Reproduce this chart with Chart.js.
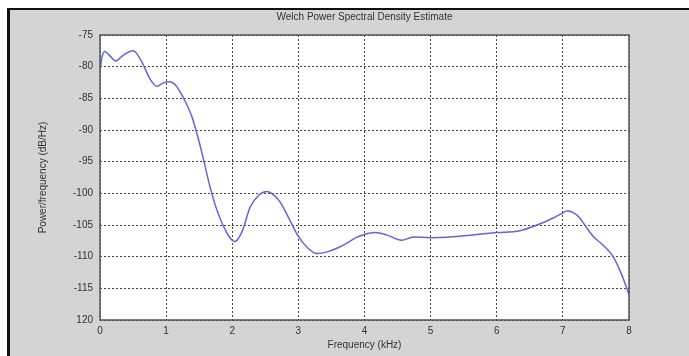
<!DOCTYPE html>
<html>
<head>
<meta charset="utf-8">
<script src="https://cdn.jsdelivr.net/npm/chart.js@4.4.1/dist/chart.umd.min.js"></script>
<style>
  html, body { margin: 0; padding: 0; background: #fff; }
  #panel {
    position: absolute; left: 7px; top: 8px; width: 682px; height: 348px;
    background: #d4d4d4; border-top: 2px solid #111; border-left: 3px solid #111;
  }
  #psd { position: absolute; left: 0; top: 0; }
</style>
</head>
<body>
<div id="panel"></div>
<canvas id="psd" width="689" height="356"></canvas>
<script>
const chartTitle = 'Welch Power Spectral Density Estimate';
const xTitle = 'Frequency (kHz)';
const yTitle = 'Power/frequency (dB/Hz)';

// frequency in kHz and PSD in dB/Hz
const freqKHz = [0.00, 0.03, 0.07, 0.15, 0.24, 0.35, 0.50, 0.62, 0.76, 0.86, 0.95, 1.05, 1.15, 1.25, 1.39, 1.51,
  1.69, 1.85, 2.04, 2.15, 2.27, 2.40, 2.52, 2.62, 2.72, 2.85, 3.00, 3.15, 3.28, 3.45, 3.60, 3.73, 3.87, 4.00,
  4.16, 4.34, 4.56, 4.74, 5.00, 5.30, 5.60, 6.00, 6.35, 6.66, 6.85, 6.98, 7.06, 7.15, 7.25, 7.35, 7.46, 7.61,
  7.76, 7.88, 7.95, 8.00];
const psdDb = [-80.5, -78.5, -77.6, -78.3, -79.1, -78.2, -77.5, -79.0, -82.0, -83.1, -82.6, -82.4, -83.0, -84.7, -87.9, -92.3,
  -100.0, -104.8, -107.6, -106.0, -102.2, -100.3, -99.7, -100.2, -101.3, -103.8, -106.8, -108.7, -109.5, -109.2, -108.6, -107.9, -107.0, -106.5,
  -106.2, -106.6, -107.4, -106.9, -107.0, -106.9, -106.6, -106.2, -105.9, -104.8, -103.9, -103.2, -102.8, -103.0, -103.8, -105.3, -106.8, -108.2,
  -110.0, -112.6, -114.5, -116.0];

const xTickLabels = ['0', '1', '2', '3', '4', '5', '6', '7', '8'];
const yTickValues = [-75, -80, -85, -90, -95, -100, -105, -110, -115, -120];
const yTickLabels = ['-75', '-80', '-85', '-90', '-95', '-100', '-105', '-110', '-115', '120'];

const points = freqKHz.map((f, i) => ({ x: f, y: psdDb[i] }));

const font = { family: 'Liberation Sans, Arial, sans-serif', size: 10 };

// white plot box, dark frame and a title centred over the axes (matlab style)
const frame = {
  id: 'frame',
  beforeDraw(chart) {
    const { ctx, chartArea: a } = chart;
    ctx.save();
    ctx.fillStyle = '#fff';
    ctx.fillRect(a.left, a.top, a.right - a.left, a.bottom - a.top);
    ctx.restore();
  },
  afterDraw(chart) {
    const { ctx, chartArea: a } = chart;
    ctx.save();
    ctx.strokeStyle = '#555';
    ctx.lineWidth = 1.5;
    ctx.strokeRect(a.left, a.top, a.right - a.left, a.bottom - a.top);
    ctx.fillStyle = '#333';
    ctx.font = '10px ' + font.family;
    ctx.textAlign = 'center';
    ctx.textBaseline = 'middle';
    ctx.fillText(chartTitle, (a.left + a.right) / 2, 17);
    ctx.restore();
  }
};

const grid = { color: '#444', lineWidth: 1, drawTicks: false };

new Chart(document.getElementById('psd'), {
  type: 'line',
  data: {
    datasets: [{
      data: points,
      borderColor: '#6464d8',
      borderWidth: 1.5,
      pointRadius: 0,
      cubicInterpolationMode: 'monotone',
      fill: false
    }]
  },
  options: {
    responsive: false,
    animation: false,
    layout: { padding: { left: 0, top: 35, right: 60, bottom: 0 } },
    plugins: {
      legend: { display: false },
      tooltip: { enabled: false },
      title: { display: false }
    },
    scales: {
      x: {
        type: 'linear', min: 0, max: 8,
        afterFit: s => { s.height = 36; },
        grid: grid,
        border: { display: false, dash: [2, 2] },
        ticks: {
          stepSize: 1, padding: 5, color: '#333', font: font, maxRotation: 0,
          callback: v => xTickLabels[v]
        },
        title: { display: true, text: xTitle, color: '#333', font: font, padding: { top: 0, bottom: 5 } }
      },
      y: {
        type: 'linear', min: -120, max: -75,
        afterFit: s => { s.width = 100; },
        grid: grid,
        border: { display: false, dash: [2, 2] },
        ticks: {
          stepSize: 5, padding: 7, color: '#333', font: font,
          callback: v => yTickLabels[yTickValues.indexOf(v)]
        },
        title: { display: true, text: yTitle, color: '#333', font: font, padding: { top: 37, bottom: 0 } }
      }
    }
  },
  plugins: [frame]
});
</script>
</body>
</html>
